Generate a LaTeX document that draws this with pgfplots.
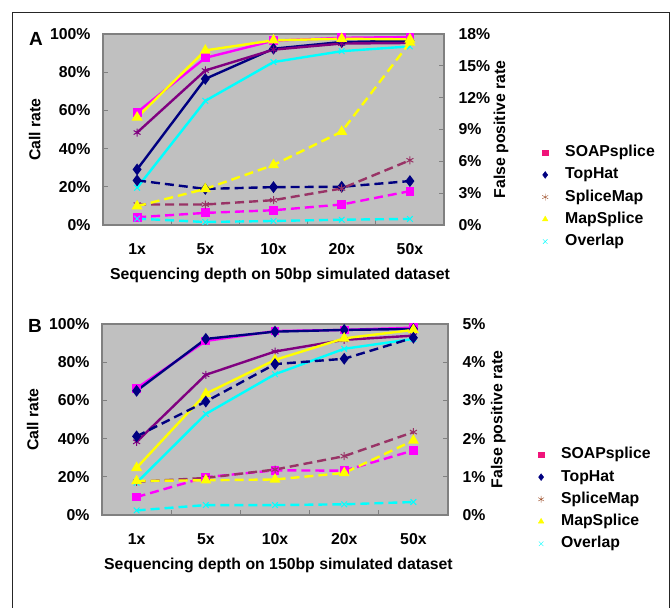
\documentclass[border=0pt]{standalone}
\usepackage{pgfplots}
\pgfplotsset{compat=1.18}
\usepackage{fontspec}
\setmainfont{Liberation Sans}
\definecolor{bggray}{HTML}{C0C0C0}
\definecolor{axgray}{HTML}{808080}
\definecolor{cSOAP}{HTML}{FF00FF}
\definecolor{cSOAPleg}{HTML}{F0147A}
\definecolor{cTop}{HTML}{000080}
\definecolor{cSM}{HTML}{800080}
\definecolor{cSMd}{HTML}{993366}
\definecolor{cSMleg}{HTML}{A0522D}
\definecolor{cMS}{HTML}{FFFF00}
\definecolor{cOv}{HTML}{00FFFF}
\newcommand{\fs}{\fontsize{15.8}{18}\selectfont\bfseries}

\pgfplotsset{
  base/.style={scale only axis, xmin=-0.5, xmax=4.5, clip=false,
    axis line style={axgray, line width=1.2pt},
    tick style={axgray, line width=1pt},
    tick label style={font=\fs}, label style={font=\fs},
    major tick length=5pt},
  callstyle/.style={base, axis background/.style={fill=bggray},
    ymin=0, ymax=100,
    ytick={0,20,...,100}, yticklabels={0\%,20\%,40\%,60\%,80\%,100\%},
    tick pos=left,
    xtick={0.5,1.5,2.5,3.5}, xticklabels={,,,},
    extra x ticks={0,1,2,3,4}, extra x tick labels={1x,5x,10x,20x,50x},
    extra x tick style={major tick length=0pt, xticklabel style={yshift=-15pt}},
    ylabel={Call rate},
    ylabel style={at={(axis description cs:-0.2,0.5)}, anchor=center},
    yticklabel style={xshift=-9pt},
    legend style={draw=none, fill=none, inner sep=0pt, font=\fs,
      nodes={inner sep=1pt, text height=11.5pt, text depth=3.5pt},
      row sep=5.2pt, cells={anchor=west}},
    legend image code/.code={\draw[##1] plot coordinates {(0pt,0pt)}; \path[draw=none, fill=none] (-4pt,0pt) -- (19pt,0pt);},
  },
  fpstyle/.style={base, axis x line=none, axis y line*=right, ymin=0,
    yticklabel style={xshift=11pt},
    ylabel={False positive rate}},
  sol/.style={line width=2.4pt, mark options={solid}},
  dsh/.style={line width=2.4pt, dash pattern=on 9pt off 5pt, mark options={solid}},
  pSOAP/.style={color=cSOAP, mark=square*, mark size=3.2pt},
  pTop/.style={color=cTop, mark=diamond*, mark size=4pt},
  pSM/.style={color=cSM, mark=asterisk, mark size=4pt, mark options={line width=1pt}},
  pSMd/.style={color=cSMd, mark=asterisk, mark size=4pt, mark options={line width=1pt}},
  pMS/.style={color=cMS, mark=triangle*, mark size=4pt},
  pOv/.style={color=cOv, mark=x, mark size=4pt, mark options={line width=1pt}},
}

\begin{document}
\begin{tikzpicture}
\useasboundingbox (0pt,0pt) rectangle (671pt,607pt);
\fill[white] (0pt,0pt) rectangle (671pt,607pt);
\draw[line width=1.2pt, black!85] (12.5pt,-2pt) -- (12.5pt,594.5pt) -- (669.5pt,594.5pt) -- (669.5pt,-2pt);

% ---------------- Panel A ----------------
\begin{axis}[callstyle, at={(103pt,382pt)}, anchor=south west, width=341pt, height=191pt,
  xlabel={Sequencing depth on 50bp simulated dataset},
  xlabel style={at={(axis description cs:0.519,-0.262)}, anchor=center},
  legend style={at={(axis description cs:1.2845,0.424)}, anchor=north west}]
\addlegendimage{only marks, mark=square*, color=cSOAPleg, mark size=2.6pt}
\addlegendentry{SOAPsplice}
\addlegendimage{only marks, mark=diamond*, color=cTop, mark size=3.4pt}
\addlegendentry{TopHat}
\addlegendimage{only marks, mark=asterisk, color=cSMleg, mark size=3.4pt}
\addlegendentry{SpliceMap}
\addlegendimage{only marks, mark=triangle*, color=cMS, mark size=3.2pt}
\addlegendentry{MapSplice}
\addlegendimage{only marks, mark=x, color=cOv, mark size=3.2pt}
\addlegendentry{Overlap}
\addplot[sol, pSOAP] coordinates {(0,59) (1,87.5) (2,96.5) (3,98) (4,98.4)};
\addplot[sol, pTop] coordinates {(0,29.1) (1,76.5) (2,92.3) (3,95.8) (4,96.5)};
\addplot[sol, pSM] coordinates {(0,48.4) (1,80.9) (2,91.8) (3,95) (4,95.3)};
\addplot[sol, pMS] coordinates {(0,56.3) (1,91.4) (2,96.7) (3,97.5) (4,97.2)};
\addplot[sol, pOv] coordinates {(0,19.5) (1,65) (2,85.3) (3,91) (4,93.5)};
\end{axis}
\begin{axis}[fpstyle, at={(103pt,382pt)}, anchor=south west, width=341pt, height=191pt,
  ymax=18, ytick={0,3,...,18}, yticklabels={0\%,3\%,6\%,9\%,12\%,15\%,18\%},
  ylabel style={at={(axis description cs:1.167,0.5)}, anchor=center, rotate=0}]
\addplot[dsh, pSOAP] coordinates {(0,0.73) (1,1.14) (2,1.39) (3,1.93) (4,3.19)};
\addplot[dsh, pTop] coordinates {(0,4.2) (1,3.4) (2,3.57) (3,3.6) (4,4.14)};
\addplot[dsh, pSMd] coordinates {(0,1.93) (1,1.93) (2,2.34) (3,3.44) (4,6.1)};
\addplot[dsh, pMS] coordinates {(0,1.77) (1,3.4) (2,5.65) (3,8.8) (4,17.2)};
\addplot[dsh, pOv] coordinates {(0,0.6) (1,0.28) (2,0.38) (3,0.5) (4,0.57)};
\end{axis}

% ---------------- Panel B ----------------
\begin{axis}[callstyle, at={(102pt,92pt)}, anchor=south west, width=346pt, height=191pt,
  xlabel={Sequencing depth on 150bp simulated dataset},
  xlabel style={at={(axis description cs:0.51,-0.262)}, anchor=center},
  legend style={at={(axis description cs:1.257,0.36)}, anchor=north west}]
\addlegendimage{only marks, mark=square*, color=cSOAPleg, mark size=2.6pt}
\addlegendentry{SOAPsplice}
\addlegendimage{only marks, mark=diamond*, color=cTop, mark size=3.4pt}
\addlegendentry{TopHat}
\addlegendimage{only marks, mark=asterisk, color=cSMleg, mark size=3.4pt}
\addlegendentry{SpliceMap}
\addlegendimage{only marks, mark=triangle*, color=cMS, mark size=3.2pt}
\addlegendentry{MapSplice}
\addlegendimage{only marks, mark=x, color=cOv, mark size=3.2pt}
\addlegendentry{Overlap}
\addplot[sol, pSOAP] coordinates {(0,66.4) (1,91.1) (2,96.3) (3,96.9) (4,98.1)};
\addplot[sol, pTop] coordinates {(0,65) (1,92.2) (2,96) (3,96.9) (4,97.4)};
\addplot[sol, pSM] coordinates {(0,38.3) (1,73.4) (2,85.6) (3,91.7) (4,93.9)};
\addplot[sol, pMS] coordinates {(0,24.7) (1,63.5) (2,81.2) (3,92.5) (4,96.9)};
\addplot[sol, pOv] coordinates {(0,16.9) (1,52.9) (2,73.7) (3,87) (4,92.2)};
\end{axis}
\begin{axis}[fpstyle, at={(102pt,92pt)}, anchor=south west, width=346pt, height=191pt,
  ymax=5, ytick={0,1,...,5}, yticklabels={0\%,1\%,2\%,3\%,4\%,5\%},
  ylabel style={at={(axis description cs:1.145,0.5)}, anchor=center, rotate=0}]
\addplot[dsh, pSOAP] coordinates {(0,0.47) (1,0.99) (2,1.17) (3,1.16) (4,1.69)};
\addplot[dsh, pTop] coordinates {(0,2.06) (1,2.97) (2,3.95) (3,4.09) (4,4.64)};
\addplot[dsh, pSMd] coordinates {(0,0.87) (1,0.97) (2,1.19) (3,1.54) (4,2.17)};
\addplot[dsh, pMS] coordinates {(0,0.89) (1,0.91) (2,0.93) (3,1.10) (4,1.95)};
\addplot[dsh, pOv] coordinates {(0,0.12) (1,0.26) (2,0.26) (3,0.28) (4,0.34)};
\end{axis}

\node[font=\fontsize{19}{22}\selectfont\bfseries] at (36pt,568pt) {A};
\node[font=\fontsize{19}{22}\selectfont\bfseries] at (35pt,281pt) {B};
\end{tikzpicture}
\end{document}
